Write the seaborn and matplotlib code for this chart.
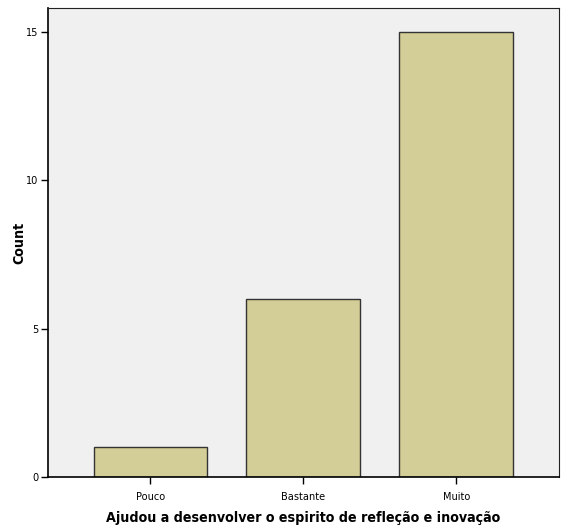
import matplotlib
matplotlib.use("Agg")
import matplotlib.pyplot as plt
import seaborn as sns
import pandas as pd

# data
categories = ["Pouco", "Bastante", "Muito"]
counts = [1, 6, 15]
yticks = [0, 5, 10, 15]

df = pd.DataFrame({"cat": categories, "count": counts})

sns.set_style("white")
plt.rcParams["font.family"] = ["DejaVu Sans"]
plt.rcParams["font.stretch"] = "condensed"

fig = plt.figure(figsize=(5.68, 5.32), dpi=100)
ax = fig.add_axes([0.0845, 0.1034, 0.8995, 0.8816])
ax.set_facecolor("#F0F0F0")

sns.barplot(data=df, x="cat", y="count", order=categories, color="#D3CE97",
            saturation=1, width=0.745, edgecolor="#333333", linewidth=1.0, ax=ax)

ax.set_xlim(-0.67, 2.67)
ax.set_ylim(0, 15.81)
ax.set_yticks(yticks)
ax.set_yticklabels([str(t) for t in yticks])
ax.tick_params(axis="both", direction="out", length=5, width=1, labelsize=7.8,
               color="black", labelcolor="black", bottom=True, left=True)
ax.tick_params(axis="x", pad=6)
ax.tick_params(axis="y", pad=2)

for side in ["left", "bottom"]:
    ax.spines[side].set_color("black")
    ax.spines[side].set_linewidth(1.2)
for side in ["top", "right"]:
    ax.spines[side].set_color("#222222")
    ax.spines[side].set_linewidth(0.8)
    ax.spines[side].set_visible(True)

ax.set_xlabel("Ajudou a desenvolver o espirito de refleção e inovação",
              fontsize=10.2, fontweight="bold", color="black")
ax.xaxis.set_label_coords(0.5, -0.072)
ax.set_ylabel("Count", fontsize=10.2, fontweight="bold", color="black")
ax.yaxis.set_label_coords(-0.042, 0.5)

fig.savefig("out.png", dpi=100)
